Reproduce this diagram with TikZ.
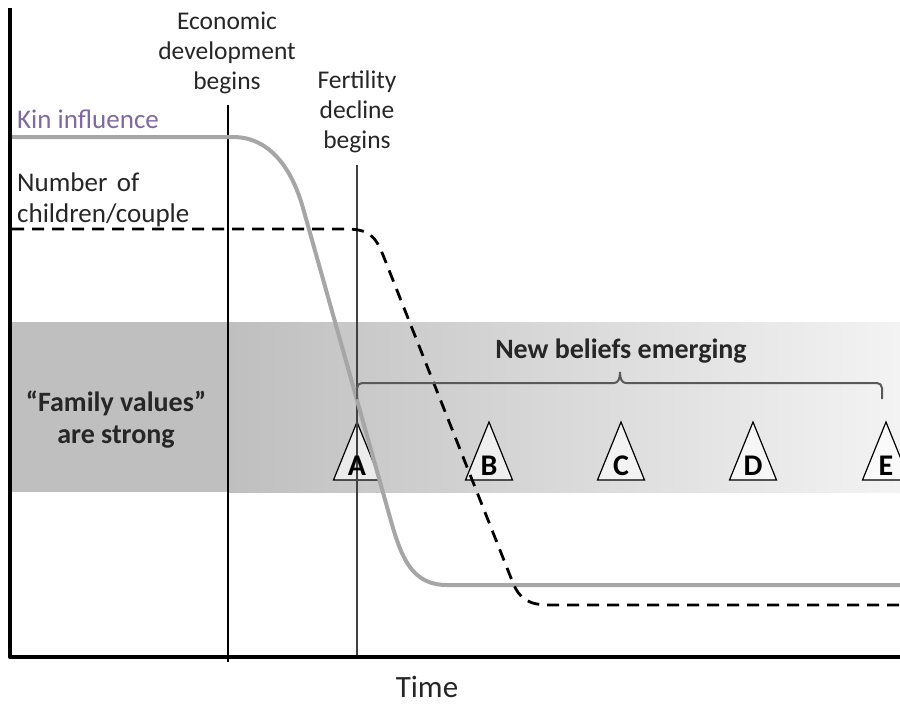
\documentclass[tikz,border=0pt]{standalone}
\usepackage{fontspec}
\setmainfont{Carlito}
\definecolor{kintext}{RGB}{128,104,160}
\definecolor{kincurve}{RGB}{166,166,166}
\definecolor{banddark}{RGB}{191,191,191}
\definecolor{bandlight}{RGB}{243,243,243}
\definecolor{bracegray}{RGB}{89,89,89}
\definecolor{declinegray}{RGB}{64,64,64}
\begin{document}
\begin{tikzpicture}[x=1pt,y=-1pt,
  lbl/.style={font=\fontsize{25.5}{30}\selectfont, inner sep=0pt, align=center, text=black!85},
  leftlbl/.style={font=\fontsize{27}{31}\selectfont, inner sep=0pt, align=left},
  boldlbl/.style={font=\bfseries\fontsize{28}{32}\selectfont, inner sep=0pt, align=center, text=black!85},
  letter/.style={font=\bfseries\fontsize{30}{30}\selectfont, inner sep=0pt, anchor=base},
  tri/.style={draw=black, line width=1.2pt, fill=white, fill opacity=0.65, line join=miter},
  vline/.style={line width=1.5pt},
  kinline/.style={draw=kincurve, line width=4pt},
  childline/.style={draw=black, line width=2.8pt, dash pattern=on 12pt off 8pt},
  bracestyle/.style={draw=bracegray, line width=2pt},
  axis/.style={draw=black, line width=4.5pt, line join=round}
]
\useasboundingbox (0,0) rectangle (900,705);

% band
\fill[banddark] (10,322) rectangle (228,492);
\shade[left color=banddark, right color=bandlight] (228,322) rectangle (900,492);

% triangles
\foreach \x in {357,489,621,753,886}{
  \draw[tri] (\x,422) -- (\x+23.5,480) -- (\x-23.5,480) -- cycle;
}

% vertical marker lines
\coordinate (econTop) at (228,105);
\coordinate (econBot) at (228,662);
\coordinate (fertTop) at (357,165);
\coordinate (fertBot) at (357,657);
\draw[vline, black] (econTop) -- (econBot);
\draw[vline, declinegray] (fertTop) -- (fertBot);

% kin influence curve
\coordinate (kinStart) at (12,137);
\coordinate (kinEnd) at (900,585);
\draw[kinline] (kinStart) -- (233,137) .. controls (270,137) and (292,169) .. (303,208)
  -- (391,521) .. controls (402,560) and (413,585) .. (447,585) -- (kinEnd);

% number of children curve
\coordinate (chStart) at (12,229);
\coordinate (chEnd) at (900,605);
\draw[childline] (chStart) -- (345,229) .. controls (368,229) and (375,235) .. (383,255)
  -- (513,583) .. controls (520,600) and (530,605) .. (550,605) -- (chEnd);

% axes
\coordinate (axTop) at (10,8);
\coordinate (axOrigin) at (10,657);
\coordinate (axRight) at (900,657);
\draw[axis] (axTop) -- (axOrigin) -- (axRight);

% brace
\coordinate (brL) at (357,399);
\coordinate (brR) at (882,399);
\coordinate (brTip) at (620,372);
\draw[bracestyle, rounded corners=5pt] (brL) |- (614,383);
\draw[bracestyle] (614,383) .. controls (618,383) and (620,379) .. (brTip)
  .. controls (620,379) and (622,383) .. (626,383);
\draw[bracestyle, rounded corners=5pt] (626,383) -| (brR);

% labels
\node[lbl, anchor=base] (econ) at (227,89) {Economic\\development\\begins};
\node[lbl, anchor=base] (fert) at (357,148) {Fertility\\decline\\begins};
\node[leftlbl, anchor=base west, text=kintext] (kin) at (17,128) {Kin influence};
\node[leftlbl, anchor=base west, text=black!85] (nchild) at (17,222) {Number\hskip0.35em of\\children/couple};
\node[boldlbl, anchor=base] (famval) at (116,443) {“Family values”\\are strong};
\node[boldlbl, anchor=base] (newbel) at (621,358) {New beliefs emerging};
\node[font=\fontsize{31}{36}\selectfont, inner sep=0pt, anchor=base, text=black!85] (time) at (427,697) {Time};

% letters
\node[letter] (lA) at (357,475) {A};
\node[letter] (lB) at (489,475) {B};
\node[letter] (lC) at (621,475) {C};
\node[letter] (lD) at (753,475) {D};
\node[letter] (lE) at (886,475) {E};
\end{tikzpicture}
\end{document}
